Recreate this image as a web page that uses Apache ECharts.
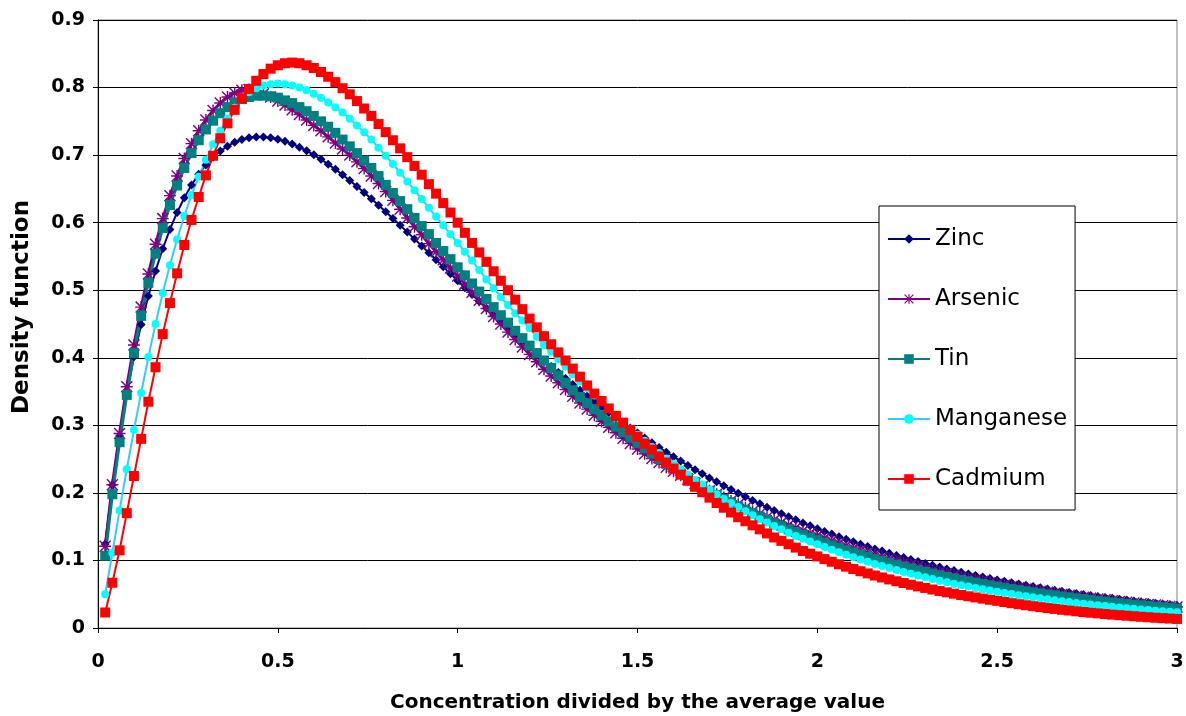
<!DOCTYPE html>
<html><head><meta charset="utf-8">
<script src="https://cdn.jsdelivr.net/npm/echarts@6/dist/echarts.min.js"></script>
<style>html,body{margin:0;padding:0;background:#fff}#c{width:1186px;height:716px}</style>
</head><body><div id="c"></div>
<script>
// sampling grid of the curves (x = concentration / average value)
const X_START = 0.02, X_STEP = 0.02;

const zinc = [
0.1245,0.2116,0.2842,0.3468,0.4014,0.4493,0.4915,0.5286,0.5614,0.5900,
0.6151,0.6369,0.6557,0.6718,0.6854,0.6968,0.7061,0.7133,0.7191,0.7231,
0.7256,0.7269,0.7269,0.7258,0.7236,0.7205,0.7165,0.7118,0.7064,0.7004,
0.6937,0.6865,0.6789,0.6709,0.6624,0.6536,0.6446,0.6353,0.6258,0.6161,
0.6061,0.5961,0.5860,0.5759,0.5656,0.5553,0.5450,0.5346,0.5243,0.5140,
0.5037,0.4936,0.4834,0.4733,0.4633,0.4534,0.4436,0.4339,0.4243,0.4148,
0.4054,0.3962,0.3871,0.3781,0.3692,0.3605,0.3520,0.3435,0.3353,0.3271,
0.3191,0.3112,0.3035,0.2960,0.2886,0.2813,0.2742,0.2672,0.2603,0.2536,
0.2471,0.2407,0.2344,0.2283,0.2222,0.2164,0.2106,0.2050,0.1995,0.1941,
0.1889,0.1838,0.1788,0.1740,0.1692,0.1646,0.1601,0.1556,0.1513,0.1471,
0.1430,0.1390,0.1351,0.1313,0.1277,0.1240,0.1205,0.1171,0.1138,0.1106,
0.1074,0.1043,0.1013,0.0985,0.0956,0.0929,0.0902,0.0875,0.0850,0.0825,
0.0801,0.0778,0.0755,0.0733,0.0711,0.0691,0.0670,0.0650,0.0631,0.0613,
0.0594,0.0577,0.0560,0.0543,0.0527,0.0511,0.0496,0.0481,0.0466,0.0452,
0.0439,0.0426,0.0413,0.0400,0.0388,0.0376,0.0365,0.0354,0.0343,0.0333];

const arsenic = [
0.121,0.212,0.288,0.357,0.419,0.475,0.524,0.568,0.606,0.640,
0.669,0.695,0.717,0.736,0.752,0.766,0.777,0.786,0.792,0.796,
0.797,0.795,0.791,0.786,0.780,0.774,0.767,0.760,0.752,0.744,
0.736,0.727,0.718,0.709,0.700,0.690,0.680,0.669,0.658,0.646,
0.633,0.620,0.607,0.594,0.582,0.569,0.557,0.545,0.533,0.521,
0.509,0.497,0.485,0.473,0.461,0.450,0.438,0.427,0.416,0.405,
0.394,0.383,0.373,0.363,0.353,0.343,0.333,0.324,0.315,0.306,
0.297,0.289,0.281,0.273,0.265,0.258,0.251,0.245,0.238,0.232,
0.226,0.220,0.214,0.209,0.203,0.198,0.193,0.188,0.183,0.178,
0.173,0.169,0.164,0.160,0.156,0.152,0.148,0.144,0.140,0.137,
0.1330,0.1291,0.1253,0.1216,0.1181,0.1146,0.1113,0.1080,0.1048,0.1018,
0.0988,0.0959,0.0931,0.0903,0.0877,0.0851,0.0826,0.0802,0.0779,0.0756,
0.0734,0.0712,0.0691,0.0671,0.0651,0.0632,0.0614,0.0596,0.0578,0.0561,
0.0545,0.0529,0.0513,0.0498,0.0484,0.0470,0.0456,0.0442,0.0429,0.0417,
0.0405,0.0393,0.0381,0.0370,0.0359,0.0349,0.0339,0.0329,0.0319,0.0310];

const tin = [
0.107,0.198,0.275,0.345,0.407,0.462,0.511,0.554,0.592,0.626,
0.655,0.681,0.703,0.722,0.738,0.751,0.762,0.771,0.778,0.783,
0.786,0.788,0.788,0.787,0.785,0.781,0.777,0.771,0.765,0.758,
0.750,0.742,0.733,0.723,0.713,0.703,0.692,0.681,0.669,0.656,
0.644,0.632,0.620,0.607,0.595,0.583,0.570,0.558,0.546,0.534,
0.522,0.510,0.498,0.487,0.475,0.463,0.452,0.440,0.429,0.418,
0.407,0.396,0.385,0.374,0.363,0.352,0.342,0.333,0.324,0.315,
0.306,0.298,0.290,0.282,0.274,0.266,0.258,0.250,0.243,0.236,
0.229,0.222,0.216,0.209,0.203,0.197,0.191,0.186,0.180,0.175,
0.170,0.165,0.160,0.155,0.151,0.146,0.142,0.138,0.134,0.130,
0.1262,0.1224,0.1188,0.1153,0.1119,0.1086,0.1054,0.1022,0.0992,0.0963,
0.0934,0.0907,0.0880,0.0854,0.0829,0.0804,0.0780,0.0757,0.0735,0.0713,
0.0692,0.0672,0.0652,0.0632,0.0614,0.0596,0.0578,0.0561,0.0544,0.0528,
0.0513,0.0497,0.0483,0.0468,0.0455,0.0441,0.0428,0.0415,0.0403,0.0391,
0.0380,0.0368,0.0357,0.0347,0.0337,0.0327,0.0317,0.0308,0.0299,0.0290];

const manganese = [
0.050,0.111,0.174,0.235,0.293,0.348,0.401,0.450,0.496,0.537,
0.575,0.610,0.641,0.668,0.693,0.716,0.736,0.754,0.770,0.783,
0.793,0.799,0.803,0.805,0.806,0.805,0.803,0.800,0.796,0.791,
0.785,0.778,0.771,0.763,0.754,0.744,0.734,0.723,0.711,0.699,
0.687,0.674,0.661,0.648,0.635,0.622,0.609,0.596,0.583,0.570,
0.557,0.544,0.530,0.516,0.503,0.490,0.478,0.466,0.455,0.444,
0.431,0.419,0.409,0.398,0.387,0.376,0.365,0.355,0.344,0.334,
0.324,0.314,0.304,0.295,0.286,0.277,0.268,0.259,0.251,0.243,
0.235,0.227,0.219,0.212,0.205,0.198,0.191,0.185,0.179,0.173,
0.167,0.161,0.156,0.151,0.146,0.141,0.136,0.132,0.128,0.124,
0.1199,0.1160,0.1121,0.1084,0.1049,0.1014,0.0981,0.0948,0.0917,0.0887,
0.0858,0.0829,0.0802,0.0776,0.0750,0.0725,0.0701,0.0678,0.0656,0.0634,
0.0613,0.0593,0.0574,0.0555,0.0536,0.0519,0.0502,0.0485,0.0469,0.0454,
0.0439,0.0424,0.0410,0.0397,0.0384,0.0371,0.0359,0.0347,0.0335,0.0324,
0.0314,0.0303,0.0293,0.0284,0.0274,0.0265,0.0257,0.0248,0.0240,0.0232];

const cadmium = [
0.023,0.067,0.115,0.170,0.225,0.280,0.335,0.386,0.435,0.481,
0.525,0.567,0.604,0.638,0.670,0.699,0.725,0.747,0.767,0.784,
0.798,0.810,0.820,0.828,0.833,0.836,0.837,0.836,0.833,0.829,
0.823,0.816,0.808,0.799,0.790,0.780,0.769,0.758,0.746,0.734,
0.722,0.710,0.697,0.684,0.671,0.657,0.643,0.629,0.615,0.600,
0.585,0.570,0.556,0.542,0.528,0.514,0.500,0.486,0.472,0.458,
0.445,0.432,0.420,0.408,0.396,0.384,0.372,0.359,0.347,0.336,
0.325,0.314,0.304,0.293,0.283,0.273,0.264,0.254,0.245,0.236,
0.227,0.218,0.209,0.201,0.193,0.185,0.178,0.171,0.164,0.158,
0.152,0.146,0.140,0.134,0.129,0.124,0.119,0.114,0.110,0.106,
0.1020,0.0981,0.0944,0.0908,0.0873,0.0840,0.0808,0.0777,0.0748,0.0719,
0.0692,0.0666,0.0640,0.0616,0.0593,0.0570,0.0548,0.0528,0.0508,0.0488,
0.0470,0.0452,0.0435,0.0418,0.0402,0.0385,0.0368,0.0352,0.0337,0.0323,
0.0309,0.0295,0.0283,0.0270,0.0259,0.0247,0.0237,0.0226,0.0217,0.0207,
0.0198,0.0190,0.0182,0.0174,0.0166,0.0159,0.0152,0.0146,0.0140,0.0134];

const xTicks = { min: 0, max: 3, interval: 0.5 };
const yTicks = { min: 0, max: 0.9, interval: 0.1 };

const xs = zinc.map((_, i) => +(X_START + i * X_STEP).toFixed(2));
const pair = arr => arr.map((v, i) => [xs[i], v]);

const ASTERISK = 'path://M4.4,0L5.6,0L5.6,10L4.4,10ZM0,4.4L10,4.4L10,5.6L0,5.6ZM0,0.85L0.85,0L10,9.15L9.15,10ZM9.15,0L10,0.85L0.85,10L0,9.15Z';

const FONT = 'DejaVu Sans';

function mk(name, data, lineColor, markColor, symbol, size, width) {
  return {
    name, type: 'line', data: pair(data), symbol, symbolSize: size,
    showAllSymbol: true, silent: true,
    lineStyle: { color: lineColor, width },
    itemStyle: { color: markColor, borderWidth: 0 },
    emphasis: { disabled: true }
  };
}

const chart = echarts.init(document.getElementById('c'), null, { renderer: 'canvas' });
chart.setOption({
  animation: false,
  backgroundColor: '#fff',
  grid: { left: 98, right: 9, top: 20, bottom: 88, containLabel: false, outerBoundsMode: 'none',
    show: true, borderColor: '#808080', borderWidth: 1, backgroundColor: 'transparent' },
  legend: {
    orient: 'vertical', left: 879, top: 206,
    padding: [18, 8, 16, 8],
    itemGap: 30, itemWidth: 42, itemHeight: 12,
    backgroundColor: '#fff', borderColor: '#000', borderWidth: 1,
    textStyle: { fontFamily: FONT, fontSize: 23, color: '#000', lineHeight: 30 },
    data: ['Zinc', 'Arsenic', 'Tin', 'Manganese', 'Cadmium']
  },
  graphic: [{
    type: 'text', x: 22, y: 307, rotation: Math.PI / 2, silent: true,
    style: { text: 'Density function', fill: '#000', align: 'center', verticalAlign: 'middle',
      font: 'bold 23px "DejaVu Sans"' }
  }],
  xAxis: {
    type: 'value', min: xTicks.min, max: xTicks.max, interval: xTicks.interval,
    name: 'Concentration divided by the average value', nameLocation: 'middle', nameGap: 65,
    nameTextStyle: { fontFamily: FONT, fontSize: 20, fontWeight: 'bold', color: '#000' },
    axisLine: { lineStyle: { color: '#000', width: 1 } },
    axisTick: { show: true, length: 5, lineStyle: { color: '#000' } },
    axisLabel: { fontFamily: FONT, fontSize: 19, fontWeight: 'bold', color: '#000', margin: 25 },
    splitLine: { show: false }
  },
  yAxis: {
    type: 'value', min: yTicks.min, max: yTicks.max, interval: yTicks.interval,
    axisLine: { show: true, lineStyle: { color: '#000', width: 1 } },
    axisTick: { show: true, length: 5, lineStyle: { color: '#000' } },
    axisLabel: { fontFamily: FONT, fontSize: 19, fontWeight: 'bold', color: '#000', margin: 13,
      formatter: v => v === 0 ? '0' : v.toFixed(1) },
    splitLine: { show: true, lineStyle: { color: '#000', width: 1 } }
  },
  series: [
    mk('Zinc', zinc, '#000080', '#000080', 'diamond', 9, 2),
    mk('Arsenic', arsenic, '#800080', '#800080', ASTERISK, 12, 3),
    mk('Tin', tin, '#008080', '#008080', 'rect', 10, 3),
    mk('Manganese', manganese, '#33CCFF', '#00FFFF', 'circle', 8, 2),
    mk('Cadmium', cadmium, '#FF0000', '#FF0000', 'rect', 10, 2)
  ]
});
</script>
</body></html>
